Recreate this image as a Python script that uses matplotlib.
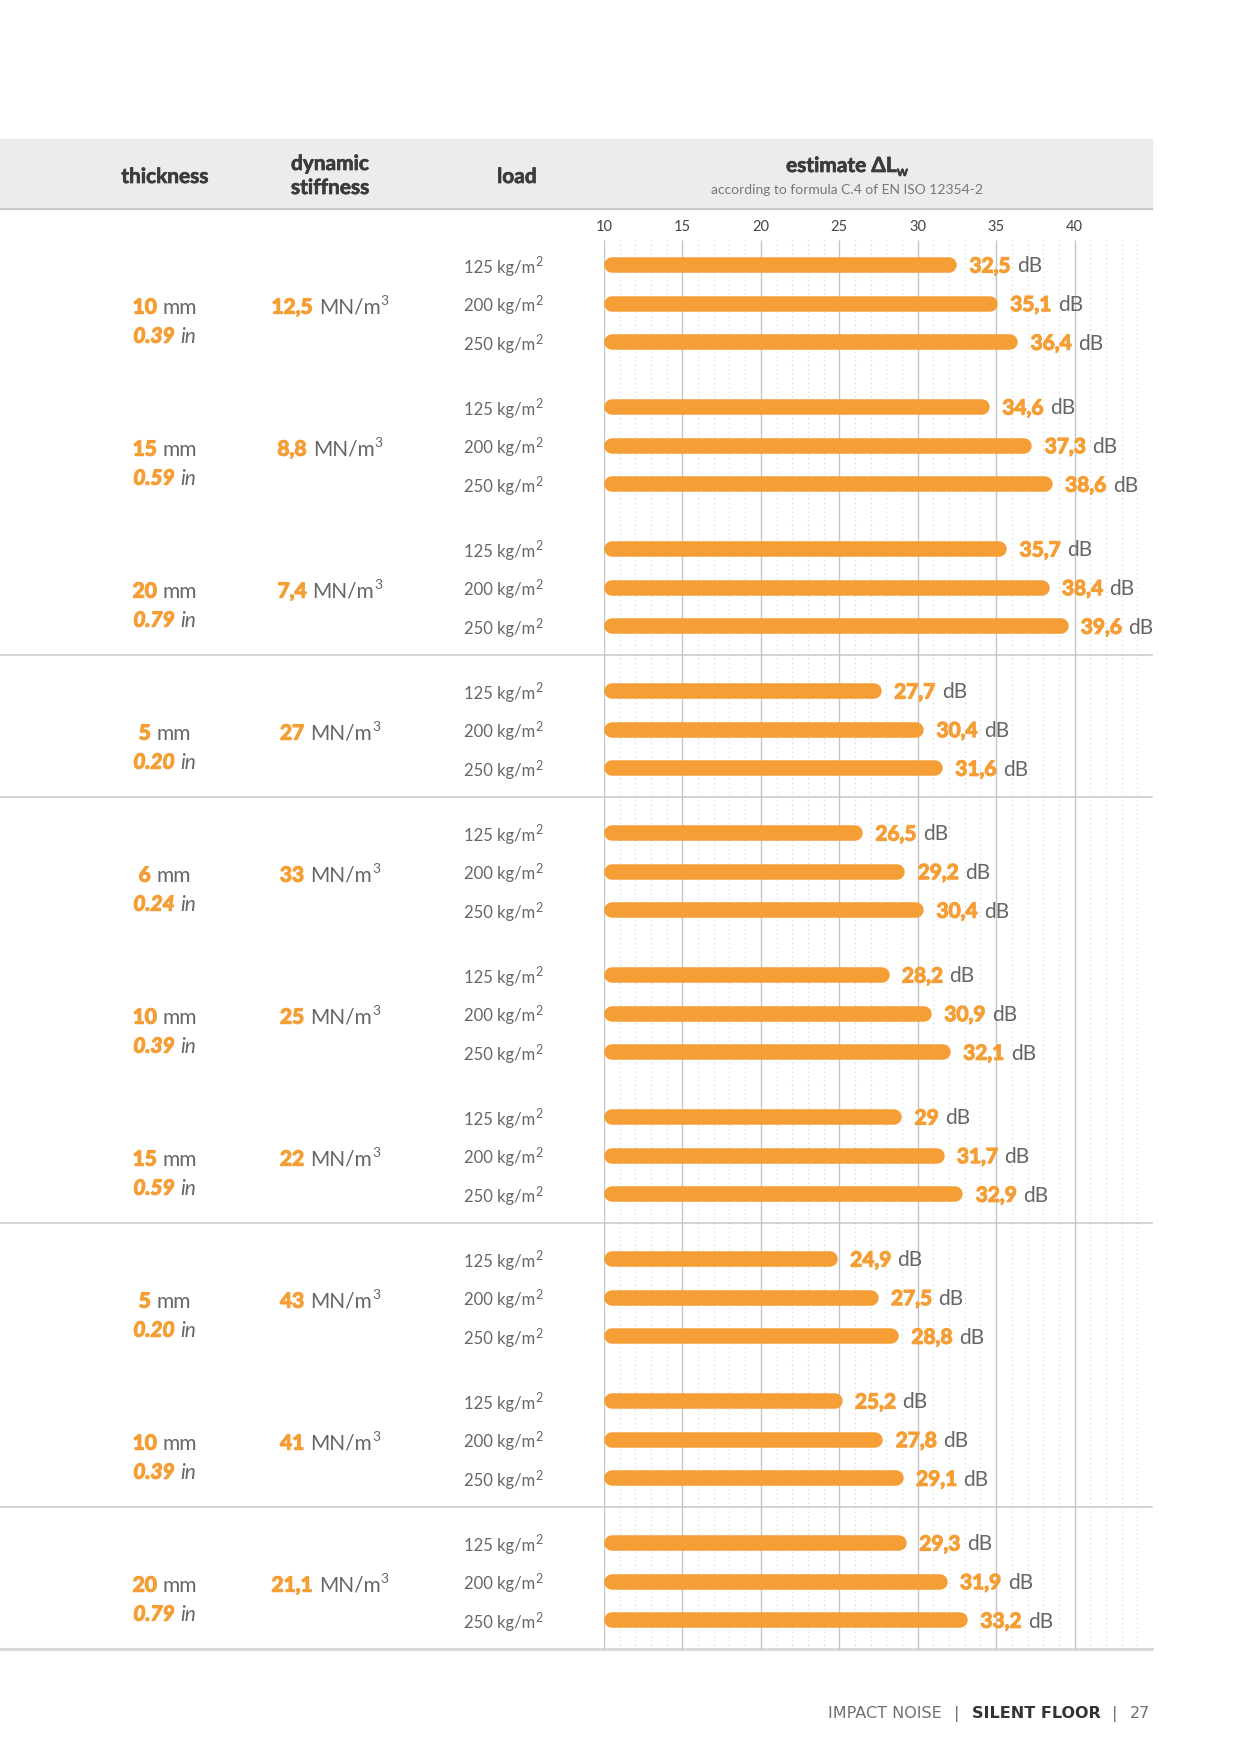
import matplotlib

matplotlib.use("Agg")
import matplotlib.pyplot as plt
import matplotlib.patheffects as pe
from matplotlib.patches import Rectangle

plt.rcParams["font.family"] = ["Lato", "DejaVu Sans"]

# data
THICK_MM = ["10", "15", "20", "5", "6", "10", "15", "5", "10", "20"]
THICK_IN = ["0.39", "0.59", "0.79", "0.20", "0.24", "0.39", "0.59", "0.20", "0.39", "0.79"]
STIFFNESS = ["12,5", "8,8", "7,4", "27", "33", "25", "22", "43", "41", "21,1"]
LOADS = ["125", "200", "250"]
DLW = [
    [32.5, 35.1, 36.4],
    [34.6, 37.3, 38.6],
    [35.7, 38.4, 39.6],
    [27.7, 30.4, 31.6],
    [26.5, 29.2, 30.4],
    [28.2, 30.9, 32.1],
    [29.0, 31.7, 32.9],
    [24.9, 27.5, 28.8],
    [25.2, 27.8, 29.1],
    [29.3, 31.9, 33.2],
]
TICKS = [10, 15, 20, 25, 30, 35, 40]
SEPARATE_AFTER = [2, 3, 6, 8, 9]

ORANGE = "#F59E35"
GREY = "#666666"
DARK = "#3b3b3b"

# layout (pixels from the top of the page)
W, H = 1240, 1754
X10, X45 = 604, 1153
TOP, BOTTOM = 240, 1650
FIRST, GROUP, ROW = 265.0, 142.0, 38.6
BAR_H = 15.5


def heavy(color, stroke=0.9):
    # Lato bold is lighter than the original face, so thicken it a little
    return dict(fontweight="bold", color=color,
                path_effects=[pe.withStroke(linewidth=stroke, foreground=color)])


fig = plt.figure(figsize=(W / 100, H / 100), dpi=100)
page = fig.add_axes([0, 0, 1, 1])
page.set_xlim(0, W)
page.set_ylim(H, 0)
page.axis("off")

ax = fig.add_axes([X10 / W, 1 - BOTTOM / H, (X45 - X10) / W, (BOTTOM - TOP) / H])
ax.set_xlim(10, 45)
ax.set_ylim(BOTTOM, TOP)
ax.patch.set_alpha(0)
for s in ax.spines.values():
    s.set_visible(False)
ax.set_yticks([])
ax.xaxis.set_ticks_position("top")
ax.set_xticks(TICKS)
ax.set_xticklabels([str(t) for t in TICKS])
ax.tick_params(axis="x", length=0, pad=4, labelsize=10.5, labelcolor="#444444")

minor = [v for v in range(11, 45) if v % 5 != 0]
ax.vlines(minor, TOP, BOTTOM, colors="#d2d2d2", linewidth=0.8, linestyles=(0, (1, 3)), zorder=1)
ax.vlines(TICKS, TOP, BOTTOM, colors="#c4c4c4", linewidth=1.0, zorder=1)

renderer = fig.canvas.get_renderer()


def parts_text(x, y, parts, ha="center"):
    arts, widths = [], []
    for txt, kw, gap, dy in parts:
        a = page.text(x, y + dy, txt, ha="left", va="baseline", **kw)
        arts.append(a)
        widths.append(a.get_window_extent(renderer).width + gap)
    total = sum(widths)
    cur = x - total / 2 if ha == "center" else (x - total if ha == "right" else x)
    for (txt, kw, gap, dy), a, w in zip(parts, arts, widths):
        a.set_x(cur + gap)
        cur += w


# header band
page.add_patch(Rectangle((0, 139), 1152, 70, color="#ececec", zorder=0))
page.plot([0, 1152], [209, 209], color="#c9c9c9", lw=1.5)
hdr = dict(fontsize=15, **heavy(DARK, 0.5))
page.text(165, 183, "thickness", ha="center", va="baseline", **hdr)
page.text(330, 170, "dynamic", ha="center", va="baseline", **hdr)
page.text(330, 194, "stiffness", ha="center", va="baseline", **hdr)
page.text(517, 183, "load", ha="center", va="baseline", **hdr)
parts_text(847, 172, [("estimate ΔL", hdr, 0, 0),
                      ("w", dict(fontsize=10, **heavy(DARK, 0.4)), 0, 4)])
page.text(847, 194, "according to formula C.4 of EN ISO 12354-2", ha="center",
          va="baseline", fontsize=10, color="#777777")

big = 15
sup = dict(fontsize=10, color=GREY)
for g, vals in enumerate(DLW):
    y0 = FIRST + g * GROUP
    mid = y0 + ROW
    parts_text(165, mid + 10, [
        (THICK_MM[g], dict(fontsize=big, **heavy(ORANGE)), 0, 0),
        ("mm", dict(fontsize=big, color=GREY), 6, 0)])
    parts_text(165, mid + 39, [
        (THICK_IN[g], dict(fontsize=big, style="italic", **heavy(ORANGE)), 0, 0),
        ("in", dict(fontsize=big, style="italic", color=GREY), 6, 0)])
    parts_text(330, mid + 10, [
        (STIFFNESS[g], dict(fontsize=big, **heavy(ORANGE)), 0, 0),
        ("MN/m", dict(fontsize=big, color=GREY), 6, 0),
        ("3", sup, 0, -9)])
    for i, v in enumerate(vals):
        y = y0 + i * ROW
        parts_text(543, y + 7.5, [
            (LOADS[i] + " kg/m", dict(fontsize=12, color=GREY), 0, 0),
            ("2", dict(fontsize=9, color=GREY), 1, -6)], ha="right")
        r = BAR_H / 2 / ((X45 - X10) / 35)
        ax.plot([10 + r, v - r], [y, y], color=ORANGE, lw=BAR_H * 0.72,
                solid_capstyle="round", zorder=3)
        lab = f"{v:g}".replace(".", ",")
        t1 = ax.annotate(lab, xy=(v, y + 7.5), xytext=(9, 0), textcoords="offset points",
                         ha="left", va="baseline", fontsize=big,
                         annotation_clip=False, zorder=4, **heavy(ORANGE))
        ax.annotate("dB", xy=(1, 0), xycoords=t1, xytext=(4.5, 0), textcoords="offset points",
                    ha="left", va="bottom", fontsize=big, color=GREY,
                    annotation_clip=False, zorder=4)
    if g in SEPARATE_AFTER:
        ys = y0 + 2 * ROW + 29
        last = g == len(DLW) - 1
        page.plot([0, 1152], [ys, ys], color="#dadada" if last else "#c8c8c8",
                  lw=2.2 if last else 1.1, zorder=2)

# footer
foot = dict(fontsize=11.5, color="#707070", family="DejaVu Sans")
parts_text(1150, 1718, [
    ("IMPACT NOISE", foot, 0, 0),
    ("|", foot, 12, 0),
    ("SILENT FLOOR", dict(foot, color="#333333", fontweight="bold"), 12, 0),
    ("|", foot, 12, 0),
    ("27", foot, 12, 0)], ha="right")

fig.savefig("out.png", dpi=100)
plt.close(fig)
